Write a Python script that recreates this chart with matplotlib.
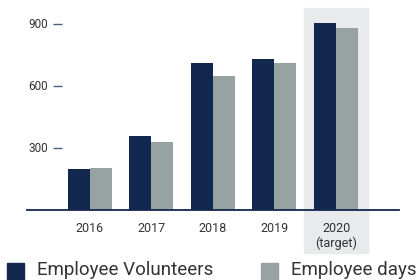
import matplotlib.pyplot as plt
from matplotlib.patches import Rectangle
from matplotlib.transforms import blended_transform_factory
import numpy as np

plt.rcParams['font.family'] = ['Roboto', 'DejaVu Sans']

# Data
years = ["2016", "2017", "2018", "2019", "2020\n(target)"]
volunteers = [200, 358, 711, 731, 905]
days = [205, 329, 648, 711, 881]
yticks = [300, 600, 900]

NAVY = "#13284e"
GRAY = "#97a2a2"
SHADE = "#e9eaec"
TEXT = "#333333"

W, H = 420, 280
fig = plt.figure(figsize=(W / 100, H / 100), dpi=100)
ax = fig.add_axes([27 / W, 1 - 210 / H, 372 / W, 202 / H])

x = np.arange(len(years))
w = 0.357
b1 = ax.bar(x - w / 2, volunteers, w, color=NAVY, label="Employee Volunteers", zorder=3)
b2 = ax.bar(x + w / 2, days, w, color=GRAY, label="Employee days", zorder=3)

# shaded target column, reaching down behind its tick label
trans = blended_transform_factory(ax.transData, ax.transAxes)
ax.add_patch(Rectangle((x[-1] - 0.52, -0.213), 1.04, 1.213, transform=trans,
                       color=SHADE, clip_on=False, zorder=0))

ax.set_xlim(-1.015, 5.02)
ax.set_ylim(0, 978)

for s in ["top", "right", "left"]:
    ax.spines[s].set_visible(False)
ax.spines["bottom"].set_color(NAVY)
ax.spines["bottom"].set_linewidth(1.3)
ax.spines["bottom"].set_zorder(4)

# y labels sit inside the axes, with a short dash to their right
ax.set_yticks([])
ytrans = blended_transform_factory(ax.transAxes, ax.transData)
for v in yticks:
    ax.text(21 / 372, v, str(v), transform=ytrans, ha="right", va="center",
            fontsize=8.5, color=TEXT)
    ax.plot([26 / 372, 35 / 372], [v, v], transform=ytrans, color="#4b5d80",
            lw=1.0, solid_capstyle="butt")

ax.set_xticks(x)
ax.set_xticklabels(years)
ax.tick_params(axis="x", length=0, pad=9, labelsize=9, labelcolor=TEXT)
for lbl in ax.get_xticklabels():
    lbl.set_linespacing(1.1)

# legend along the bottom edge
for bars, x0 in [(b1, 7), (b2, 261)]:
    fig.patches.append(Rectangle((x0 / W, -2 / H), 17 / W, 19 / H,
                                 transform=fig.transFigure,
                                 color=bars.patches[0].get_facecolor()))
    fig.text((x0 + 30) / W, 5 / H, bars.get_label(), fontsize=13.5,
             color=TEXT, va="baseline", ha="left")

fig.savefig("out.png", dpi=100)
